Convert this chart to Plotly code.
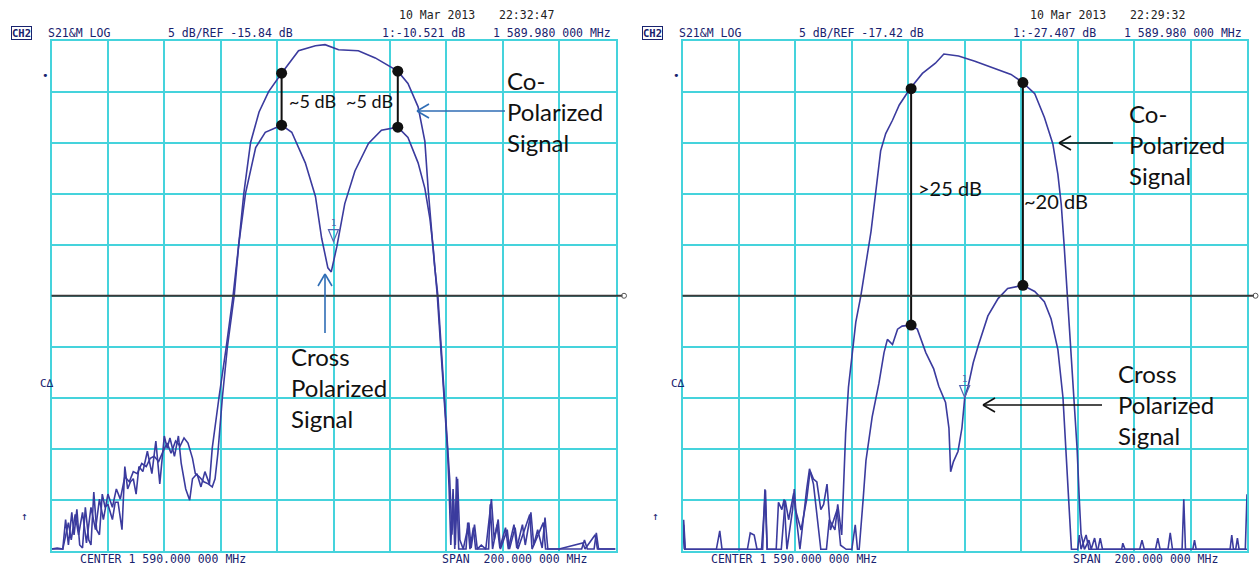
import plotly.graph_objects as go

W, H = 1259, 567

# ---------------- data (frequency in MHz, level in dB) ----------------
CENTER_MHZ = 1590.0
SPAN_MHZ = 200.0
DB_PER_DIV = 5.0
REF_LEFT = -15.84
REF_RIGHT = -17.42
MARKER_MHZ = 1589.98
MARKER_LEFT_DB = -10.521
MARKER_RIGHT_DB = -27.407

left_co_f = [1490, 1492, 1494, 1496, 1497, 1498.4, 1499.6, 1501, 1502.4, 1504, 1505.6, 1507, 1508.4, 1510,
             1511.6, 1513, 1514.4, 1516, 1517.6, 1519, 1520.4, 1522, 1523.6, 1525, 1526.4, 1528, 1529.6, 1531,
             1532.4, 1534, 1535.6, 1537, 1538.4, 1540, 1541, 1542.4, 1544, 1545.6, 1547, 1548, 1549, 1550,
             1550.6, 1552.4, 1554.8, 1556.4, 1558.2, 1560.6, 1563.6, 1567, 1571.6, 1577.6, 1583.6, 1587,
             1591.8, 1598.8, 1604.8, 1612.8, 1616.4, 1620, 1622.4, 1623.6, 1624.8, 1625.8, 1627, 1628.2,
             1629.4, 1630.6, 1631.2, 1632, 1632.6, 1633.2, 1634, 1634.8, 1636, 1638, 1638.8, 1640, 1641,
             1642.4, 1644, 1646, 1647, 1648, 1649, 1651, 1652, 1654, 1655, 1657, 1658, 1660, 1661, 1662.4,
             1664, 1665, 1666, 1678, 1679, 1680, 1682.4, 1683.2, 1684, 1690]
left_co_db = [-40.7, -40.6, -40.7, -38.1, -39.8, -37.3, -39.3, -37.1, -40.1, -36.6, -38.8, -35.8, -37.8, -35.3,
              -36.6, -34.8, -35.8, -33.6, -34.1, -33.1, -33.3, -32.3, -32.6, -31.8, -31.6, -32.1, -31.1, -30.3,
              -31.3, -30.1, -30.6, -29.8, -30.3, -31.8, -33.3, -33.6, -34.1, -34.3, -34.6, -33.8, -31.3, -27.8,
              -25.8, -20.8, -15.8, -10.8, -5.8, -0.8, 2.2, 4.2, 6.0, 8.2, 8.7, 8.8,
              8.3, 8.2, 7.5, 6.2, 5.0, 2.7, -0.7, -5.5, -9.5, -12.8, -15.8, -20.8,
              -25.8, -30.8, -33.8, -39.3, -35.8, -40.3, -33.8, -39.8, -40.7, -38.1, -40.6, -38.3, -40.7,
              -40.3, -40.7, -35.8, -39.8, -38.3, -40.6, -38.6, -40.7, -38.3, -40.6, -38.3, -40.3, -37.1, -40.3, -38.8,
              -40.6, -37.6, -40.7, -40.7, -39.8, -40.7, -40.7, -39.1, -40.7, -40.7]

left_x_f = [1490, 1492.4, 1494, 1495, 1496, 1497.2, 1498, 1499, 1500, 1501, 1502, 1503.2, 1504, 1505, 1506,
            1507, 1508, 1509, 1510, 1511.6, 1512.6, 1513.6, 1515, 1516, 1517, 1518, 1519, 1520, 1521, 1522.4,
            1524, 1525.6, 1527, 1528.4, 1530, 1531, 1532, 1533.6, 1535, 1536, 1537.6, 1539, 1540, 1541.6,
            1543, 1544.4, 1546, 1547, 1548.4, 1549.4, 1552, 1554.4, 1556.4, 1558.8, 1562.4, 1565.8, 1571.6,
            1575.2, 1580, 1583.6, 1585.8, 1588, 1589.2, 1591.2, 1594, 1597.6, 1602.4, 1607, 1612.8, 1616.4,
            1620, 1622.4, 1624.2, 1625.4, 1626.8, 1628, 1629.2, 1630.4, 1631, 1631.6, 1632.4, 1633, 1633.6,
            1634.4, 1637, 1637.6, 1638.4, 1639.6, 1640.4, 1645, 1645.6, 1646.4, 1648.4, 1649.2, 1651.6,
            1652.4, 1654.4, 1655.4, 1659.6, 1660.4, 1664.4, 1665.2, 1670, 1678.4, 1679.2, 1682.8, 1683.6, 1690]
left_x_db = [-40.7, -40.7, -40.7, -37.8, -40.3, -37.1, -39.3, -36.8, -40.3, -40.6, -36.6, -39.8, -40.3, -35.1,
             -38.8, -39.3, -35.3, -36.6, -36.3, -37.8, -36.1, -36.1, -38.8, -32.6, -34.8, -34.1, -33.8, -35.3,
             -32.6, -33.1, -31.1, -33.3, -30.1, -34.3, -29.6, -30.8, -29.8, -31.6, -29.6, -32.3, -34.8, -35.9,
             -33.8, -33.3, -34.6, -33.1, -34.3, -30.8, -27.8, -25.8, -20.8, -15.8, -10.8, -5.8, -1.3, 0.2, 0.9,
             0.2, -2.8, -6.1, -10.2, -13.1, -13.5, -11.0, -6.8, -3.6, -0.9, 0.4, 0.7, -0.3,
             -2.8, -5.3, -8.3, -11.3, -15.8, -20.8, -25.8, -30.8, -34.8, -40.3, -34.8, -40.7, -33.6,
             -40.7, -40.7, -38.1, -40.7, -38.6, -40.7, -40.7, -36.3, -40.7, -37.8, -40.7, -38.8,
             -40.7, -38.6, -40.7, -37.3, -40.7, -38.1, -40.7, -40.7, -40.1, -40.7, -39.3, -40.7, -40.7]

right_co_f = [1490, 1490.4, 1491, 1502, 1503.2, 1504, 1513, 1514, 1515.4, 1516.4, 1518.4, 1519.2, 1520, 1523.2,
              1524, 1525.2, 1526, 1527, 1529, 1529.6, 1530.4, 1531.6, 1534, 1535, 1536.4, 1538, 1539, 1541,
              1542, 1544, 1545, 1546.4, 1547.2, 1547.8, 1548.8, 1549.6, 1551.4, 1553.2, 1555, 1556.8, 1558.4,
              1560.2, 1562, 1564.4, 1566.8, 1570.6, 1575, 1579.6, 1582.6, 1587.8, 1593.6, 1600.6, 1606.4,
              1610.6, 1614.8, 1618.2, 1621.2, 1623, 1624.2, 1625.2, 1626.4, 1627.6, 1628.8, 1629.8, 1630.6,
              1631.2, 1632.4, 1634, 1634.8, 1636, 1636.8, 1645.6, 1646, 1646.8, 1657.6, 1658.4, 1659.2, 1667,
              1667.6, 1668.2, 1686, 1686.6, 1687.2, 1689.4, 1690]
right_co_db = [-42.3, -39.4, -42.3, -42.3, -40.5, -42.3, -42.3, -40.7, -40.9, -42.3, -42.3, -36.4, -42.3, -42.3,
               -37.7, -38.4, -37.4, -42.3, -38.4, -36.4, -39.4, -42.3, -36.4, -34.4, -35.9, -39.9, -42.3, -42.3,
               -39.4, -40.4, -37.9, -40.9, -34.9, -30.9, -26.4, -24.3, -20.0, -17.4, -14.4, -11.1, -7.4,
               -3.2, -1.5, -0.2, 1.3, 2.9, 4.4, 5.4, 6.3, 6.1, 5.6, 4.9, 4.3,
               3.5, 2.4, 0.1, -2.5, -5.5, -8.5, -12.4, -17.4, -22.3, -27.4, -32.4, -37.5,
               -40.8, -42.3, -41.4, -42.3, -41.2, -42.3, -42.3, -41.7, -42.3, -42.3, -41.2, -42.3, -42.3,
               -37.4, -42.3, -42.3, -41.2, -42.3, -42.3, -36.9]

right_x_f = [1490, 1490.4, 1490.8, 1518, 1519.4, 1520, 1525, 1526.4, 1527.6, 1529.4, 1530, 1532, 1534, 1535.2,
             1536.4, 1537.6, 1539, 1540, 1541.2, 1542.4, 1543.6, 1544.8, 1546, 1548, 1550, 1551.2, 1552, 1552.6,
             1554, 1555, 1557.2, 1559.6, 1561.4, 1562.6, 1564.4, 1566.2, 1567.8, 1570.6, 1573.2, 1576.2, 1579,
             1580.8, 1583.2, 1584.4, 1585, 1586, 1587.6, 1589, 1590, 1591.2, 1593, 1594.8, 1598.2, 1601.8,
             1605.2, 1610.6, 1614.8, 1618.2, 1620.6, 1623, 1624.8, 1625.8, 1627, 1627.8, 1630, 1630.6, 1631.2,
             1633, 1634, 1637.2, 1638, 1638.8, 1652, 1652.8, 1653.6, 1662, 1662.8, 1663.6, 1670.8, 1671.4, 1672,
             1684, 1684.6, 1685.2, 1690]
right_x_db = [-42.3, -39.9, -42.3, -42.3, -36.5, -42.3, -42.3, -37.5, -39.4, -36.8, -38.4, -40.4, -37.4, -34.6,
              -35.4, -35.7, -38.4, -37.9, -35.9, -40.4, -39.4, -38.4, -41.9, -42.3, -42.3, -39.9, -42.3, -42.3,
              -37.4, -33.6, -29.3, -26.0, -23.0, -21.7, -22.2, -20.7, -20.4, -20.3, -20.7, -23.0, -24.6,
              -26.3, -27.9, -30.4, -34.7, -33.7, -32.7, -30.4, -27.4, -26.3, -24.0, -22.3, -19.4, -17.7,
              -16.7, -16.4, -17.0, -18.0, -19.7, -22.7, -27.4, -32.4, -37.5, -42.3, -42.3, -40.9, -42.3,
              -40.9, -42.3, -42.3, -41.2, -42.3, -42.3, -41.4, -42.3, -42.3, -40.7, -42.3, -42.3, -41.4, -42.3,
              -42.3, -40.9, -42.3, -42.3]

# isolation callouts: frequency and the two levels joined
left_call_f = [1571.6, 1612.8]
left_call_hi = [6.0, 6.2]
left_call_lo = [0.9, 0.7]
right_call_f = [1571.0, 1610.6]
right_call_hi = [2.9, 3.5]
right_call_lo = [-20.3, -16.4]

# ---------------- styling ----------------
GRID = "#45d3dc"
TRACE = "#3b3b9e"
INSTR = "#18226e"
DOM_Y = [1 - 550.5 / H, 1 - 41 / H]
DOM_L = [51.5 / W, 615.5 / W]
DOM_R = [682.5 / W, 1247 / W]


def px(x):
    return x / W


def py(y):
    return 1 - y / H


def mhz_text(f):
    # instrument style: 1 589.980 000 MHz
    ghz = int(f // 1000)
    rest = f - ghz * 1000
    return "%d %07.3f 000 MHz" % (ghz, rest) if ghz else "%.3f 000 MHz" % rest


fig = go.Figure()

panels = [
    ("x", "y", left_co_f, left_co_db, left_x_f, left_x_db),
    ("x2", "y2", right_co_f, right_co_db, right_x_f, right_x_db),
]
for xa, ya, cf, cd, xf, xd in panels:
    fig.add_trace(go.Scatter(x=xf, y=xd, xaxis=xa, yaxis=ya, mode="lines",
                             line=dict(color=TRACE, width=1.6), hoverinfo="skip"))
    fig.add_trace(go.Scatter(x=cf, y=cd, xaxis=xa, yaxis=ya, mode="lines",
                             line=dict(color=TRACE, width=1.6), hoverinfo="skip"))

# callout lines with dots
for xa, ya, fs, his, los in [("x", "y", left_call_f, left_call_hi, left_call_lo),
                             ("x2", "y2", right_call_f, right_call_hi, right_call_lo)]:
    for f, hi, lo in zip(fs, his, los):
        fig.add_trace(go.Scatter(x=[f, f], y=[hi, lo], xaxis=xa, yaxis=ya, mode="lines+markers",
                                 line=dict(color="#111111", width=2),
                                 marker=dict(color="#111111", size=11), hoverinfo="skip",
                                 cliponaxis=False))

axis_common = dict(showgrid=True, gridcolor=GRID, gridwidth=2, showline=True, linecolor=GRID,
                   linewidth=2, mirror=True, zeroline=False, showticklabels=False, ticks="",
                   fixedrange=True)
fig.update_layout(
    width=W, height=H, margin=dict(l=0, r=0, t=0, b=0),
    paper_bgcolor="white", plot_bgcolor="white", showlegend=False,
    xaxis=dict(domain=DOM_L, range=[CENTER_MHZ - SPAN_MHZ / 2, CENTER_MHZ + SPAN_MHZ / 2],
               tick0=CENTER_MHZ - SPAN_MHZ / 2, dtick=SPAN_MHZ / 10, anchor="y", **axis_common),
    yaxis=dict(domain=DOM_Y, range=[REF_LEFT - 5 * DB_PER_DIV, REF_LEFT + 5 * DB_PER_DIV],
               tick0=REF_LEFT, dtick=DB_PER_DIV, anchor="x", **axis_common),
    xaxis2=dict(domain=DOM_R, range=[CENTER_MHZ - SPAN_MHZ / 2, CENTER_MHZ + SPAN_MHZ / 2],
                tick0=CENTER_MHZ - SPAN_MHZ / 2, dtick=SPAN_MHZ / 10, anchor="y2", **axis_common),
    yaxis2=dict(domain=DOM_Y, range=[REF_RIGHT - 5 * DB_PER_DIV, REF_RIGHT + 5 * DB_PER_DIV],
                tick0=REF_RIGHT, dtick=DB_PER_DIV, anchor="x2", **axis_common),
)

shapes = []
annotations = []
mid_y = (DOM_Y[0] + DOM_Y[1]) / 2

# reference lines + end marker
for dom in (DOM_L, DOM_R):
    shapes.append(dict(type="line", xref="paper", yref="paper", x0=dom[0], x1=dom[1] + 7 / W,
                       y0=mid_y, y1=mid_y, line=dict(color="#3a3a3a", width=2), layer="above"))
    shapes.append(dict(type="circle", xref="paper", yref="paper", x0=dom[1] + 6 / W, x1=dom[1] + 11 / W,
                       y0=mid_y - 2.5 / H, y1=mid_y + 2.5 / H, line=dict(color="#555", width=1)))

# marker 1 triangles
for xa, ya, mdb in [("x", "y", MARKER_LEFT_DB), ("x2", "y2", MARKER_RIGHT_DB)]:
    shapes.append(dict(type="path", xref=xa, yref=ya, xsizemode="pixel", ysizemode="pixel",
                       xanchor=MARKER_MHZ, yanchor=mdb, path="M -5 12 L 5 12 L 0 0 Z",
                       line=dict(color="#5565b0", width=1.2), fillcolor="rgba(0,0,0,0)"))
    annotations.append(dict(x=MARKER_MHZ, y=mdb, xref=xa, yref=ya, text="1", showarrow=False,
                            yshift=19, font=dict(family="DejaVu Sans Mono", size=9, color="#5565b0")))

# instrument header / footer texts
mono = "DejaVu Sans Mono"
for off, ref, mval, date, time in [(0, REF_LEFT, MARKER_LEFT_DB, "10 Mar 2013", "22:32:47"),
                                   (631, REF_RIGHT, MARKER_RIGHT_DB, "10 Mar 2013", "22:29:32")]:
    def T(x, y, s, anchor="left", size=11.5, color=INSTR, **kw):
        annotations.append(dict(x=px(x + off), y=py(y), xref="paper", yref="paper", text=s,
                                showarrow=False, xanchor=anchor, yanchor="middle",
                                font=dict(family=mono, size=size, color=color), **kw))
    T(397, 15, date, color="#222")
    T(497, 15, time, color="#222")
    T(11, 33, "<b>CH2</b>", size=10.5, bordercolor=INSTR, borderwidth=1, borderpad=0)
    T(46, 33, "S21&M LOG")
    T(166, 33, "5 dB/REF %.2f dB" % ref)
    T(380, 33, "1:%.3f dB" % mval)
    T(613, 33, mhz_text(MARKER_MHZ), anchor="right")
    T(78, 559, "CENTER " + mhz_text(CENTER_MHZ))
    T(440, 559, "SPAN  " + mhz_text(SPAN_MHZ))
    T(40, 75, "•", size=11)
    T(38, 383, "C∆", size=11)
    T(19, 516, "↑", size=11)

# callout texts
callfont = "Lato"
texts = [
    dict(x=px(287), y=py(101), text="~5 dB", font=dict(family=callfont, size=18, color="#111")),
    dict(x=px(344), y=py(101), text="~5 dB", font=dict(family=callfont, size=18, color="#111")),
    dict(x=px(916), y=py(188), text=">25 dB", font=dict(family=callfont, size=20, color="#111")),
    dict(x=px(1022), y=py(201), text="~20 dB", font=dict(family=callfont, size=20, color="#111")),
    dict(x=px(505), y=py(111), text="Co-<br>Polarized<br>Signal", font=dict(family=callfont, size=24, color="#111")),
    dict(x=px(289), y=py(387), text="Cross<br>Polarized<br>Signal", font=dict(family=callfont, size=24, color="#111")),
    dict(x=px(1127), y=py(144), text="Co-<br>Polarized<br>Signal", font=dict(family=callfont, size=24, color="#111")),
    dict(x=px(1116), y=py(404), text="Cross<br>Polarized<br>Signal", font=dict(family=callfont, size=24, color="#111")),
]
for a in texts:
    a.update(xref="paper", yref="paper", showarrow=False, xanchor="left", yanchor="middle", align="left")
annotations += texts


def arrow(x0, y0, x1, y1, color, head=12, spread=7):
    shapes.append(dict(type="line", xref="paper", yref="paper", x0=px(x0), y0=py(y0), x1=px(x1), y1=py(y1),
                       line=dict(color=color, width=1.6)))
    if y0 == y1:
        s = 1 if x0 > x1 else -1
        for d in (-spread, spread):
            shapes.append(dict(type="line", xref="paper", yref="paper", x0=px(x1), y0=py(y1),
                               x1=px(x1 + s * head), y1=py(y1 + d), line=dict(color=color, width=1.6)))
    else:
        s = 1 if y0 > y1 else -1
        for d in (-spread, spread):
            shapes.append(dict(type="line", xref="paper", yref="paper", x0=px(x1), y0=py(y1),
                               x1=px(x1 + d), y1=py(y1 + s * head), line=dict(color=color, width=1.6)))


arrow(505, 111, 417, 111, "#2f6db5")
arrow(325, 333, 325, 274, "#2f6db5")
arrow(1113, 143, 1059, 143, "#111111")
arrow(1102, 405, 983, 405, "#111111")

fig.update_layout(shapes=shapes, annotations=annotations)
fig.write_html("out.html", config={"displayModeBar": False},
               post_script="document.body.style.margin='0px';document.body.style.overflow='hidden';")
